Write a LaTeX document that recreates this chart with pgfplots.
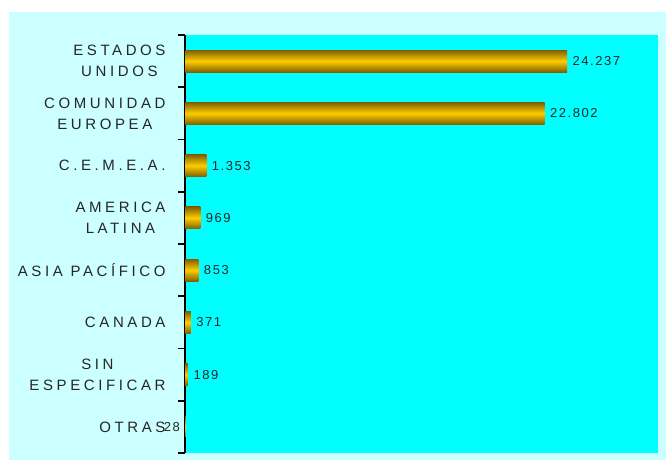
\documentclass[border=0pt]{standalone}
\usepackage{fontspec}
\setmainfont{Liberation Sans}
\newfontfamily\lblfont[LetterSpace=24]{Liberation Sans}
\newfontfamily\valfont[LetterSpace=12]{Liberation Sans}
\usepackage{pgfplots}
\pgfplotsset{compat=1.18}

\definecolor{outerbg}{RGB}{204,255,255}
\definecolor{plotbg}{RGB}{0,255,255}
\definecolor{bardark}{RGB}{128,96,0}
\definecolor{barmid}{RGB}{255,204,0}

\pgfplotsset{goldbar/.style={draw=none, top color=bardark, bottom color=bardark, middle color=barmid}}

\begin{document}
\begin{tikzpicture}[x=1bp,y=1bp]
\path[use as bounding box] (0,0) rectangle (666,460);
\fill[outerbg] (9,0) rectangle (666,448);
\begin{axis}[
    at={(185bp,7bp)}, anchor=south west,
    width=473bp, height=418bp, scale only axis,
    xbar, bar width=22bp, bar shift=0pt,
    xmin=0, xmax=30000,
    ymin=-0.5, ymax=7.5, y dir=reverse,
    axis x line=none, axis y line=left,
    y axis line style={-, black, line width=1.6bp},
    axis background/.style={fill=plotbg},
    ytick={0,...,7},
    yticklabels={{ESTADOS\\UNIDOS},{COMUNIDAD\\EUROPEA},C.E.M.E.A.,{AMERICA\\LATINA},ASIA PACÍFICO,CANADA,{SIN\\ESPECIFICAR},OTRAS},
    yticklabel style={font=\lblfont\fontsize{15bp}{21bp}\selectfont, align=center, anchor=east, xshift=-16bp, text=black!85},
    major tick length=0pt,
    minor ytick={-0.5,0.5,...,7.5},
    minor tick length=7bp, tick align=outside,
    minor tick style={black, line width=1.6bp},
    clip=false,
    point meta=x,
    nodes near coords={\pgfmathprintnumber[fixed, precision=0, 1000 sep={.}, assume math mode=true]{\pgfplotspointmeta}},
    every node near coord/.append style={font=\valfont\fontsize{13bp}{15bp}\selectfont, text=black!85, anchor=west, xshift=2bp},
]
\addplot[goldbar] coordinates {(24237,0)};
\addplot[goldbar] coordinates {(22802,1)};
\addplot[goldbar] coordinates {(1353,2)};
\addplot[goldbar] coordinates {(969,3)};
\addplot[goldbar] coordinates {(853,4)};
\addplot[goldbar] coordinates {(371,5)};
\addplot[goldbar] coordinates {(189,6)};
\addplot[goldbar, every node near coord/.append style={anchor=east, xshift=-4bp}] coordinates {(28,7)};
\end{axis}
\end{tikzpicture}
\end{document}
